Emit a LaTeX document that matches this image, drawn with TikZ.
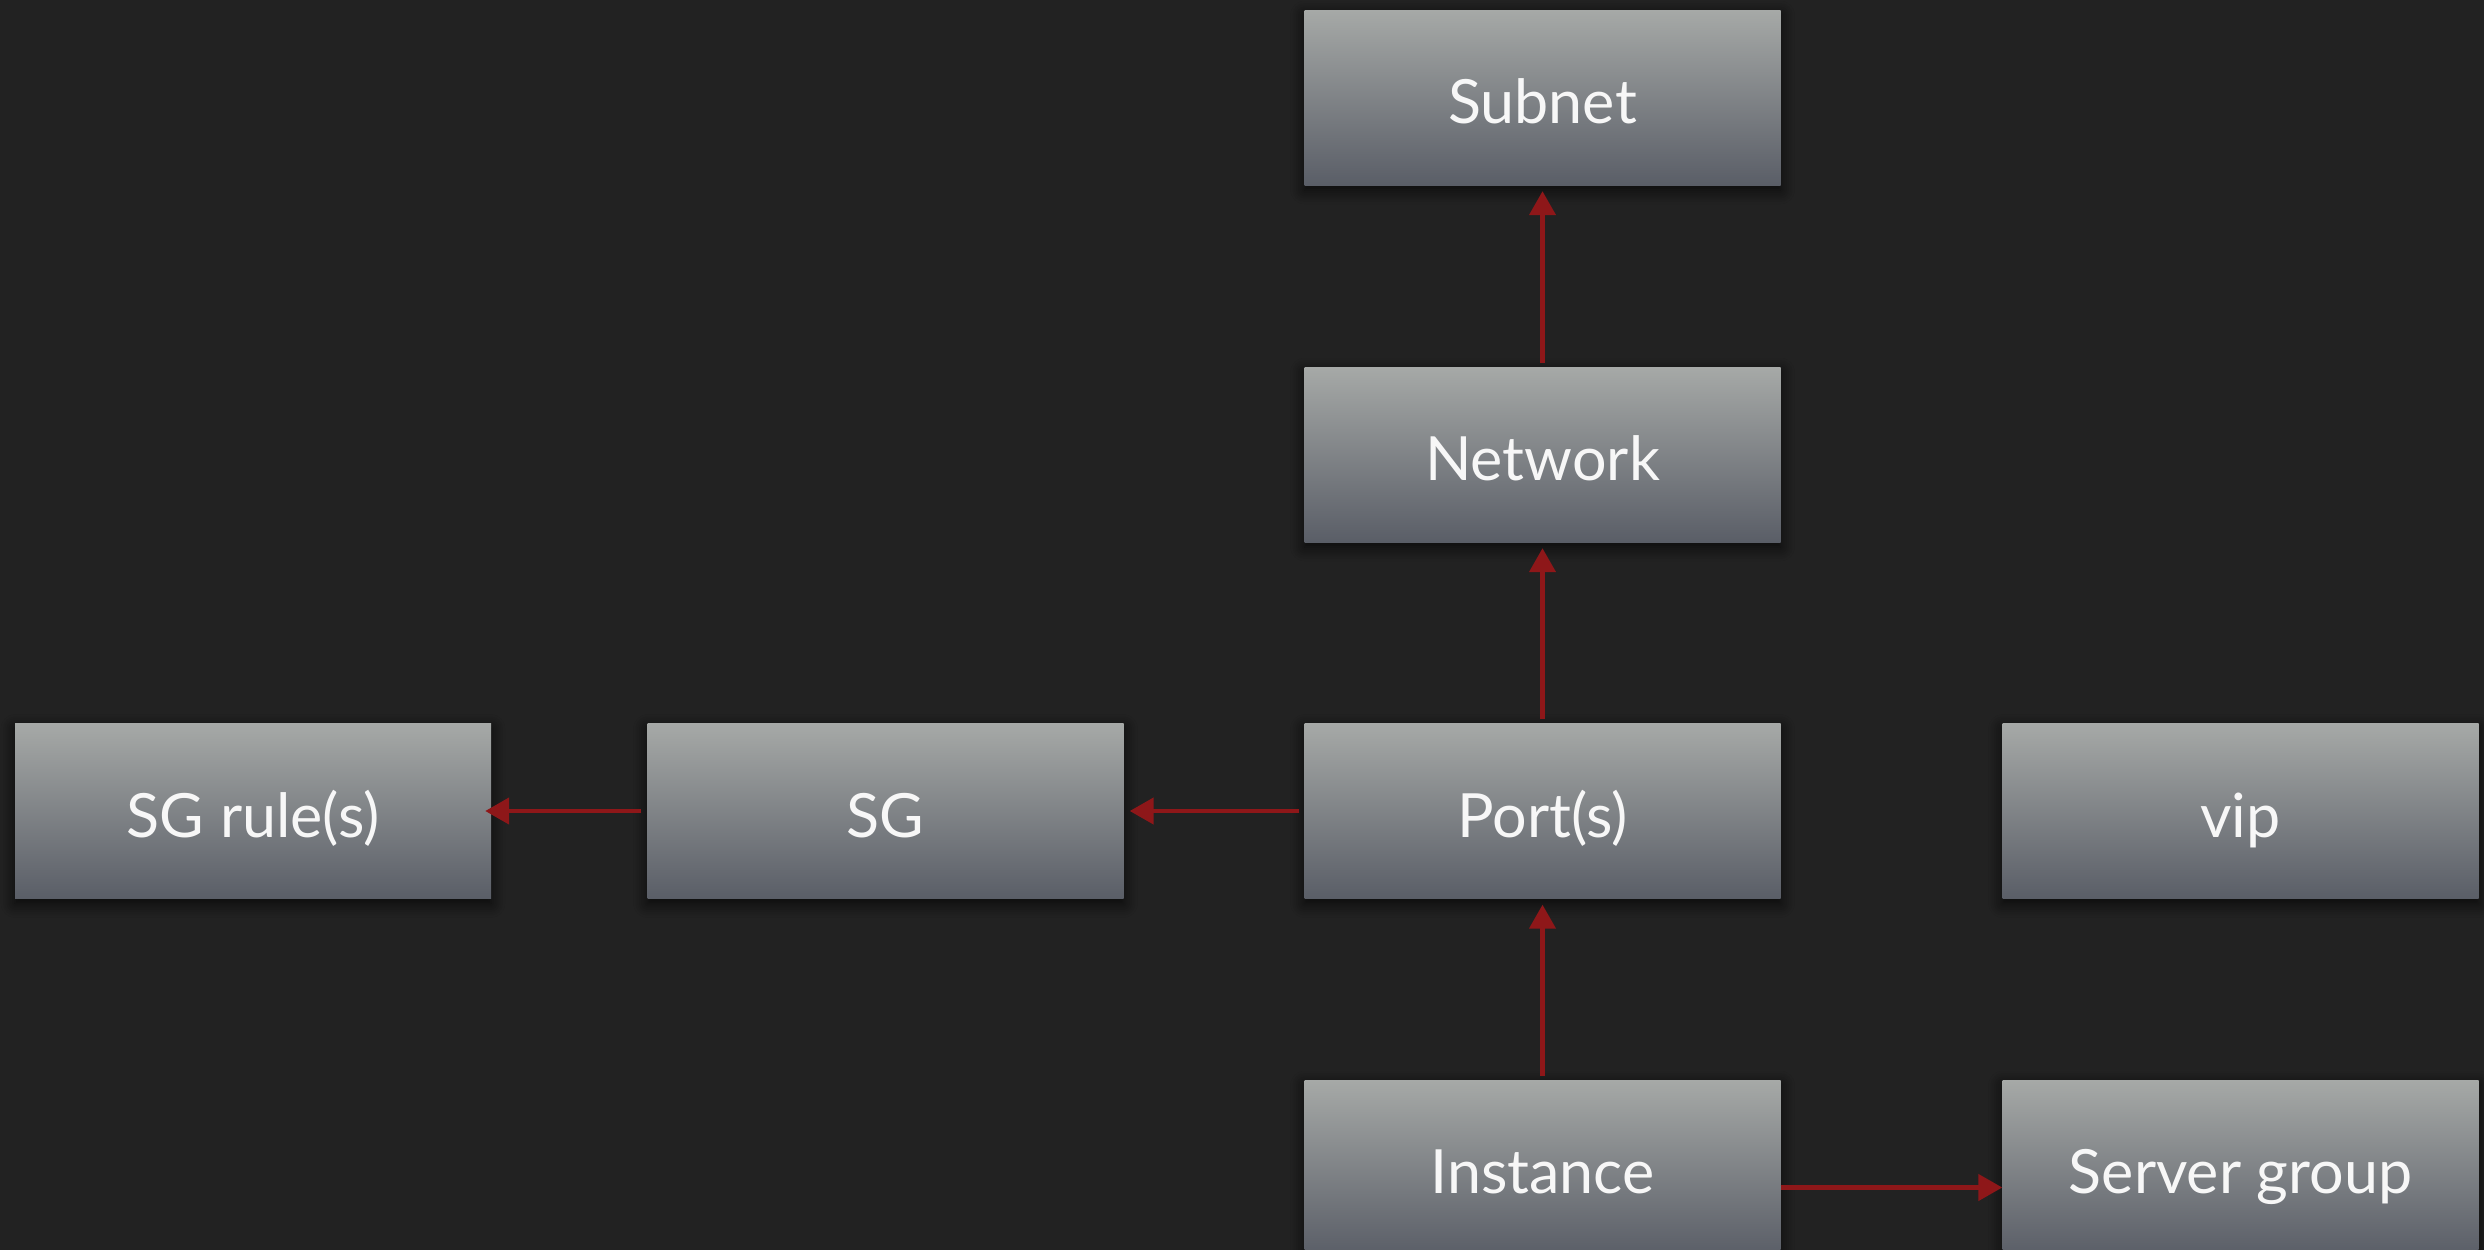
\documentclass[tikz,border=0pt]{standalone}
\usepackage{fontspec}
\setmainfont{Lato}
\usetikzlibrary{arrows.meta,shadows.blur}
\definecolor{bg}{HTML}{222222}
\definecolor{boxtop}{HTML}{A6A9A7}
\definecolor{boxbot}{HTML}{5A5E67}
\definecolor{arrowred}{HTML}{8E1719}
\definecolor{txt}{HTML}{F7F7F7}
\tikzset{
  entity/.style={rectangle, minimum width=476pt, minimum height=175pt, inner sep=0pt,
    text height=56pt, text depth=4pt,
    top color=boxtop, bottom color=boxbot, draw=none,
    blur shadow={shadow xshift=0pt, shadow yshift=-5pt, shadow blur radius=14pt, shadow blur steps=8, shadow opacity=75},
    text=txt, font=\fontsize{61}{66}\selectfont},
  rel/.style={draw=arrowred, line width=4.5pt, -{Triangle[length=24pt,width=26pt]}}
}
\begin{document}
\begin{tikzpicture}[x=1pt,y=-1pt]
\fill[bg] (0,0) rectangle (2484,1250);
\useasboundingbox (0,0) rectangle (2484,1250);
\node[entity] (subnet) at (1542.5,97.5) {Subnet};
\node[entity] (network) at (1542.5,454.5) {Network};
\node[entity] (port) at (1542.5,811) {Port(s)};
\node[entity] (sg) at (885.5,811) {SG};
\node[entity] (sgrule) at (253,811) {SG rule(s)};
\node[entity] (vip) at (2240.5,811) {vip};
\node[entity] (inst) at (1542.5,1167.5) {Instance};
\node[entity] (sgroup) at (2240.5,1167.5) {Server group};
\draw[rel, shorten <=4pt, shorten >=6pt] (network.north) -- (subnet.south);
\draw[rel, shorten <=4pt, shorten >=6pt] (port.north) -- (network.south);
\draw[rel, shorten <=4pt, shorten >=6pt] (inst.north) -- (port.south);
\draw[rel, shorten <=5pt, shorten >=6pt] (port.west) -- (sg.east);
\draw[rel, shorten <=6pt, shorten >=-6pt] (sg.west) -- (sgrule.east);
\draw[rel] ([yshift=-20pt]inst.east) -- ([yshift=-20pt]sgroup.west);
\end{tikzpicture}
\end{document}
